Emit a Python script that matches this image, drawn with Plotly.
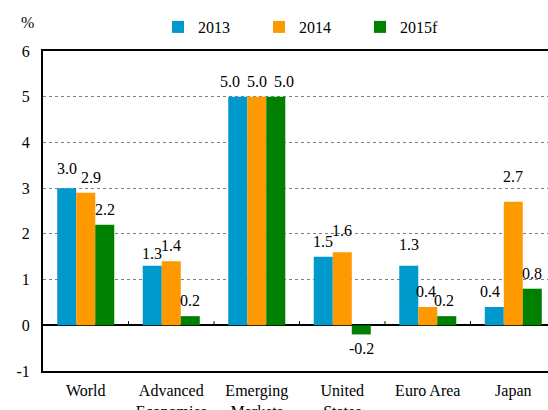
import plotly.graph_objects as go

categories = ["World", "Advanced<br>Economies", "Emerging<br>Markets", "United<br>States", "Euro Area", "Japan"]
series_names = ["2013", "2014", "2015f"]
v2013 = [3.0, 1.3, 5.0, 1.5, 1.3, 0.4]
v2014 = [2.9, 1.4, 5.0, 1.6, 0.4, 2.7]
v2015 = [2.2, 0.2, 5.0, -0.2, 0.2, 0.8]
colors = ["#0099CC", "#FF9900", "#008000"]
y_ticks = [-1, 0, 1, 2, 3, 4, 5, 6]
y_ticktext = ["-1", "0", "1", "2", "3", "4", "5", "6"]

# nudges (px) of value labels, to keep neighbours apart as in the original
label_dx = [
    [0, 0, -8, 0, 0, -4],
    [5, 0, 0, 0, -2, 0],
    [0, 0, 8, 0, -3, 0],
]
label_dy = [
    [4, -3, 0, 0, 6, 0],
    [0, 0, 0, 6, 0, 10],
    [0, 0, 0, 0, 0, 0],
]

FONT = "Liberation Serif"
BARGAP = 0.333
n_series = 3
bar_w = (1 - BARGAP) / n_series

fig = go.Figure()
annotations = []
for s, (name, vals, col) in enumerate(zip(series_names, [v2013, v2014, v2015], colors)):
    fig.add_trace(go.Bar(
        x=categories, y=vals, name=name,
        marker=dict(color=col, line=dict(width=0)),
    ))
    off = (s - (n_series - 1) / 2) * bar_w
    for i, v in enumerate(vals):
        annotations.append(dict(
            x=i + off, y=v, xref="x", yref="y", text=f"{v:.1f}", showarrow=False,
            xanchor="center", yanchor="bottom" if v >= 0 else "top",
            yshift=(5 + label_dy[s][i]) if v >= 0 else -4, xshift=label_dx[s][i],
            font=dict(family=FONT, size=16, color="black"),
        ))

# small ticks on the zero line between categories
shapes = []
for i in range(len(categories) - 1):
    shapes.append(dict(type="line", xref="x", yref="y", x0=i + 0.5, x1=i + 0.5,
                       y0=0, y1=0.09, line=dict(color="black", width=1)))

annotations.append(dict(text="%", xref="paper", yref="paper", x=(27 - 43) / 505, y=1 + 29 / 320,
                        xanchor="center", yanchor="middle",
                        showarrow=False, font=dict(family=FONT, size=16)))

fig.update_layout(
    width=548, height=410,
    margin=dict(l=43, r=0, t=51, b=39, autoexpand=False),
    paper_bgcolor="white", plot_bgcolor="white",
    font=dict(family=FONT, size=16, color="black"),
    barmode="group", bargap=BARGAP, bargroupgap=0,
    showlegend=True,
    legend=dict(orientation="h", xref="container", yref="container",
                x=158 / 548, xanchor="left", y=1 - 27 / 410, yanchor="middle",
                font=dict(family=FONT, size=16), entrywidth=56, entrywidthmode="pixels",
                bgcolor="rgba(0,0,0,0)"),
    shapes=shapes,
    annotations=annotations,
    xaxis=dict(range=[-0.5, 5.406], showline=True, linecolor="black", linewidth=2,
               mirror=True, ticks="", showgrid=False, tickangle=0, automargin=False,
               ticklabelstandoff=4),
    yaxis=dict(range=[-1, 6], tickmode="array", tickvals=y_ticks, ticktext=y_ticktext,
               showline=True, linecolor="black", linewidth=2,
               showgrid=True, gridcolor="#808080", griddash="3px,3px", gridwidth=1,
               zeroline=True, zerolinecolor="black", zerolinewidth=2,
               ticks="", ticklabelstandoff=8, automargin=False),
)

fig.write_html("out.html", config={"displayModeBar": False},
               post_script="document.body.style.margin='0px';")
